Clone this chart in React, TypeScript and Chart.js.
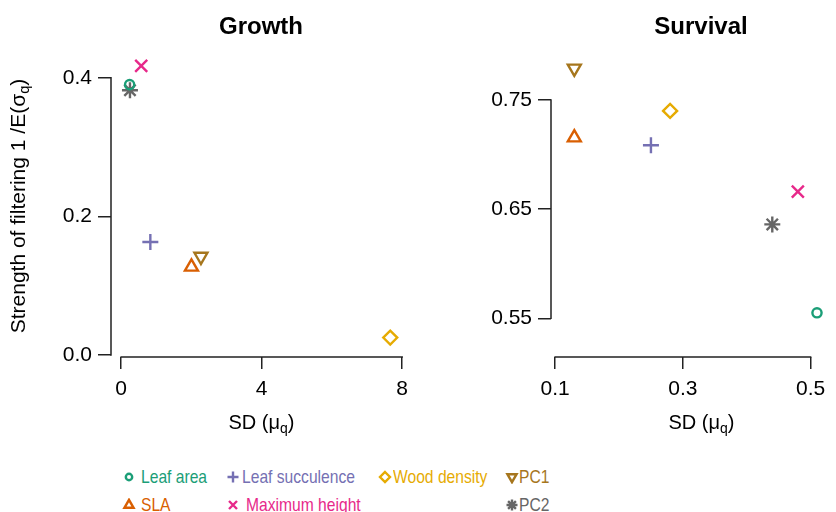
import React, { useEffect, useRef } from "react";
import { Chart, registerables } from "chart.js";

Chart.register(...registerables);

// ---------- data ----------
const traits = ["Leaf area", "SLA", "Leaf succulence", "Maximum height", "Wood density", "PC1", "PC2"];
const traitColors = ["#1B9E77", "#D95F02", "#7570B3", "#E7298A", "#E6AB02", "#A6761D", "#666666"];
const traitStyles = ["circle", "triangle", "cross", "crossRot", "rectRot", "triangle", "star"];
const traitRotation = [0, 0, 0, 0, 0, 180, 0];
const traitRadius = [4.6, 7.5, 8, 8.5, 7, 7.5, 8];

const growthSD = [0.24, 2.0, 0.83, 0.57, 7.66, 2.27, 0.25];
const growthStrength = [0.39, 0.127, 0.163, 0.417, 0.025, 0.142, 0.382];
const survivalSD = [0.51, 0.13, 0.25, 0.48, 0.28, 0.13, 0.44];
const survivalStrength = [0.555, 0.7155, 0.7085, 0.666, 0.74, 0.779, 0.636];

const growthTicksX = [0, 4, 8];
const growthTicksY = [0, 0.2, 0.4];
const survivalTicksX = [0.1, 0.3, 0.5];
const survivalTicksY = [0.55, 0.65, 0.75];

const FONT = '"Liberation Sans", Arial, Helvetica, sans-serif';
const AXIS = "#222";

const axisLines = {
  id: "axisLines",
  beforeDatasetsDraw(chart: any) {
    const { ctx, chartArea } = chart;
    const x = chart.scales.x;
    const y = chart.scales.y;
    const xt = x.ticks;
    const yt = y.ticks;
    ctx.save();
    ctx.strokeStyle = AXIS;
    ctx.lineWidth = 1.5;
    ctx.lineCap = "square";
    ctx.beginPath();
    ctx.moveTo(x.getPixelForValue(xt[0].value), chartArea.bottom);
    ctx.lineTo(x.getPixelForValue(xt[xt.length - 1].value), chartArea.bottom);
    ctx.moveTo(chartArea.left, y.getPixelForValue(yt[0].value));
    ctx.lineTo(chartArea.left, y.getPixelForValue(yt[yt.length - 1].value));
    ctx.stroke();
    ctx.restore();
  },
};

type PanelProps = {
  xs: number[];
  ys: number[];
  ticksX: number[];
  ticksY: number[];
  xMin: number;
  xMax: number;
  yMin: number;
  yMax: number;
  yAxisWidth: number;
  padRight: number;
  fmtX: (v: number) => string;
  fmtY: (v: number) => string;
  left: number;
};

const W = 418;
const H = 420;

function Panel(p: PanelProps) {
  const ref = useRef<HTMLCanvasElement | null>(null);
  useEffect(() => {
    if (!ref.current) return;
    const datasets = traits.map((name, i) => ({
      label: name,
      data: [{ x: p.xs[i], y: p.ys[i] }],
      pointStyle: traitStyles[i],
      pointRotation: traitRotation[i],
      pointRadius: traitRadius[i],
      pointBorderColor: traitColors[i],
      pointBackgroundColor: "rgba(0,0,0,0)",
      pointBorderWidth: 2.4,
      borderColor: traitColors[i],
      backgroundColor: "rgba(0,0,0,0)",
      showLine: false,
      clip: false as any,
    }));
    const chart = new Chart(ref.current, {
      type: "scatter",
      data: { datasets },
      options: {
        animation: false,
        responsive: false,
        devicePixelRatio: 1,
        layout: { padding: { top: 50, right: p.padRight, left: 0, bottom: 0 } },
        plugins: { legend: { display: false }, tooltip: { enabled: false }, title: { display: false } },
        scales: {
          x: {
            type: "linear",
            min: p.xMin,
            max: p.xMax,
            afterBuildTicks: (s: any) => {
              s.ticks = p.ticksX.map((v) => ({ value: v }));
            },
            afterFit: (s: any) => {
              s.height = H - 357;
            },
            grid: { display: true, drawOnChartArea: false, drawTicks: true, tickLength: 12, color: AXIS, lineWidth: 1.5 },
            border: { display: false },
            ticks: {
              font: { family: FONT, size: 21 },
              color: "#000",
              padding: 8,
              maxRotation: 0,
              autoSkip: false,
              callback: (v: any) => p.fmtX(Number(v)),
            },
          },
          y: {
            type: "linear",
            min: p.yMin,
            max: p.yMax,
            afterBuildTicks: (s: any) => {
              s.ticks = p.ticksY.map((v) => ({ value: v }));
            },
            afterFit: (s: any) => {
              s.width = p.yAxisWidth;
            },
            grid: { display: true, drawOnChartArea: false, drawTicks: true, tickLength: 13, color: AXIS, lineWidth: 1.5 },
            border: { display: false },
            ticks: {
              font: { family: FONT, size: 21 },
              color: "#000",
              padding: 6,
              autoSkip: false,
              callback: (v: any) => p.fmtY(Number(v)),
            },
          },
        },
      } as any,
      plugins: [axisLines],
    });
    return () => chart.destroy();
  }, []);
  return (
    <canvas
      ref={ref}
      width={W}
      height={H}
      style={{ position: "absolute", left: p.left, top: 0, width: W, height: H }}
    />
  );
}

function LegendMarker({ i, size }: { i: number; size: number }) {
  const c = traitColors[i];
  const s = size;
  const h = s / 2;
  const sw = 2.4;
  let shape: React.ReactNode = null;
  const st = traitStyles[i];
  if (st === "circle") shape = <circle cx={h} cy={h} r={3.2} fill="none" stroke={c} strokeWidth={sw} />;
  else if (st === "triangle" && traitRotation[i] === 0)
    shape = <polygon points={`${h},${h - 5.2} ${h + 4.6},${h + 2.8} ${h - 4.6},${h + 2.8}`} fill="none" stroke={c} strokeWidth={sw} />;
  else if (st === "triangle")
    shape = <polygon points={`${h},${h + 5.2} ${h + 4.6},${h - 2.8} ${h - 4.6},${h - 2.8}`} fill="none" stroke={c} strokeWidth={sw} />;
  else if (st === "cross")
    shape = <path d={`M${h - 5.5},${h}H${h + 5.5}M${h},${h - 5.5}V${h + 5.5}`} stroke={c} strokeWidth={sw} />;
  else if (st === "crossRot")
    shape = <path d={`M${h - 4},${h - 4}L${h + 4},${h + 4}M${h - 4},${h + 4}L${h + 4},${h - 4}`} stroke={c} strokeWidth={sw} />;
  else if (st === "rectRot")
    shape = <polygon points={`${h},${h - 5} ${h + 5},${h} ${h},${h + 5} ${h - 5},${h}`} fill="none" stroke={c} strokeWidth={sw} />;
  else if (st === "star")
    shape = (
      <path
        d={`M${h - 5.5},${h}H${h + 5.5}M${h},${h - 5.5}V${h + 5.5}M${h - 3.9},${h - 3.9}L${h + 3.9},${h + 3.9}M${h - 3.9},${h + 3.9}L${h + 3.9},${h - 3.9}`}
        stroke={c}
        strokeWidth={sw}
      />
    );
  return (
    <svg width={s} height={s} style={{ display: "block" }}>
      {shape}
    </svg>
  );
}

const legendLayout = [
  { i: 0, mx: 129.3, tx: 140.7, cy: 477.3 },
  { i: 1, mx: 128.5, tx: 140.7, cy: 504.5 },
  { i: 2, mx: 233.3, tx: 241.7, cy: 477.3 },
  { i: 3, mx: 233.3, tx: 245.7, cy: 504.5 },
  { i: 4, mx: 385, tx: 393.3, cy: 477.3 },
  { i: 5, mx: 512.3, tx: 519, cy: 477.3 },
  { i: 6, mx: 511.7, tx: 519, cy: 504.5 },
];

export default function App() {
  const sub: React.CSSProperties = { fontSize: "0.7em", verticalAlign: "-0.3em", lineHeight: 0 };
  return (
    <div
      style={{
        position: "fixed",
        left: 0,
        top: 0,
        width: 836,
        height: 512,
        background: "#fff",
        overflow: "hidden",
        fontFamily: FONT,
        color: "#000",
      }}
    >
      <Panel
        xs={growthSD}
        ys={growthStrength}
        ticksX={growthTicksX}
        ticksY={growthTicksY}
        xMin={-0.29}
        xMax={8.14}
        yMin={-0.003}
        yMax={0.44}
        yAxisWidth={111}
        padRight={7}
        fmtX={(v) => v.toFixed(0)}
        fmtY={(v) => v.toFixed(1)}
        left={0}
      />
      <Panel
        xs={survivalSD}
        ys={survivalStrength}
        ticksX={survivalTicksX}
        ticksY={survivalTicksY}
        xMin={0.0935}
        xMax={0.5227}
        yMin={0.5145}
        yMax={0.7958}
        yAxisWidth={133}
        padRight={0}
        fmtX={(v) => v.toFixed(1)}
        fmtY={(v) => v.toFixed(2)}
        left={418}
      />
      {/* panel titles */}
      <div style={{ position: "absolute", left: 161, width: 200, top: 11.5, lineHeight: "28px", fontSize: 24, fontWeight: "bold", textAlign: "center" }}>
        Growth
      </div>
      <div style={{ position: "absolute", left: 601, width: 200, top: 11.5, lineHeight: "28px", fontSize: 24, fontWeight: "bold", textAlign: "center" }}>
        Survival
      </div>
      {/* x axis titles */}
      <div style={{ position: "absolute", left: 161.5, width: 200, top: 409.7, lineHeight: "24px", fontSize: 20, textAlign: "center", whiteSpace: "nowrap" }}>
        SD (μ<span style={sub}>q</span>)
      </div>
      <div style={{ position: "absolute", left: 601.5, width: 200, top: 409.7, lineHeight: "24px", fontSize: 20, textAlign: "center", whiteSpace: "nowrap" }}>
        SD (μ<span style={sub}>q</span>)
      </div>
      {/* y axis title */}
      <div
        style={{
          position: "absolute",
          left: 18.3 - 170,
          top: 205.8 - 12,
          width: 340,
          lineHeight: "24px",
          fontSize: 21,
          textAlign: "center",
          whiteSpace: "nowrap",
          transform: "rotate(-90deg)",
          transformOrigin: "50% 50%",
        }}
      >
        Strength of filtering 1 /E(σ<span style={sub}>q</span>)
      </div>
      {/* legend */}
      {legendLayout.map((l) => (
        <React.Fragment key={l.i}>
          <div style={{ position: "absolute", left: l.mx - 7, top: l.cy - 7 }}>
            <LegendMarker i={l.i} size={14} />
          </div>
          <div
            style={{
              position: "absolute",
              left: l.tx,
              top: l.cy - 10,
              lineHeight: "20px",
              fontSize: 18.5,
              color: traitColors[l.i],
              whiteSpace: "nowrap",
              transform: "scaleX(0.845)",
              transformOrigin: "0 50%",
            }}
          >
            {traits[l.i]}
          </div>
        </React.Fragment>
      ))}
    </div>
  );
}
